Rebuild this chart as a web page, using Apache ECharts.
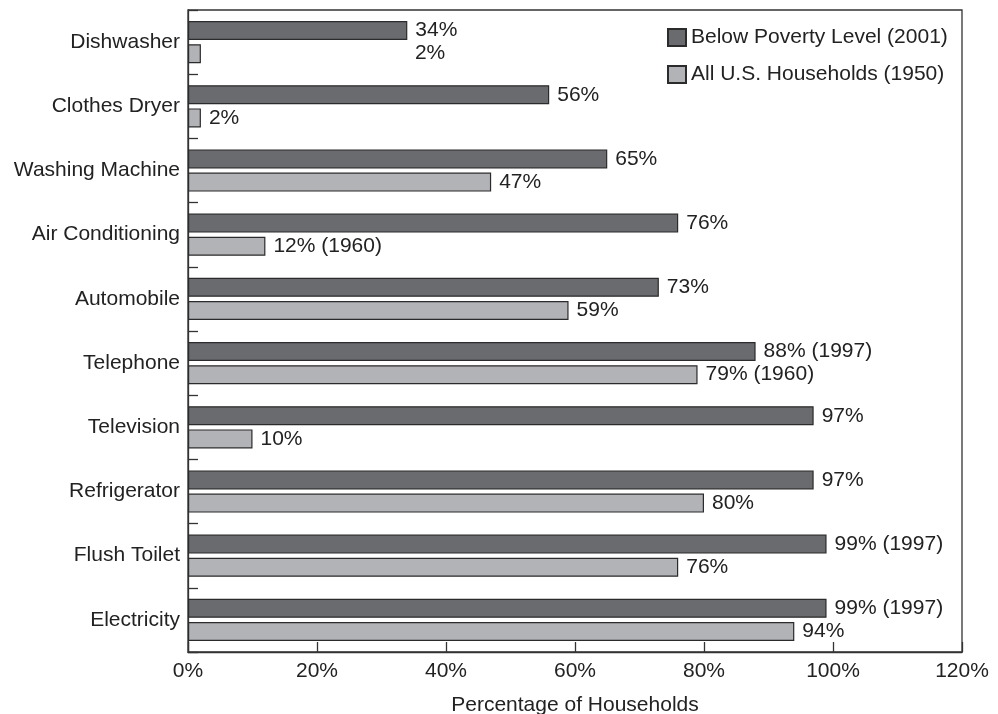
<!DOCTYPE html>
<html>
<head>
<meta charset="utf-8">
<script src="https://cdn.jsdelivr.net/npm/echarts@6/dist/echarts.min.js"></script>
<style>
  html, body { margin: 0; padding: 0; background: #fff; }
  #chart { width: 998px; height: 714px; }
</style>
</head>
<body>
<div id="chart"></div>
<script>
// Household amenities: poor households in 2001 vs. all U.S. households in 1950
const categories = ['Dishwasher', 'Clothes Dryer', 'Washing Machine', 'Air Conditioning', 'Automobile',
  'Telephone', 'Television', 'Refrigerator', 'Flush Toilet', 'Electricity'];
const povertyValues = [34, 56, 65, 76, 73, 88, 97, 97, 99, 99];
const povertyNotes = ['', '', '', '', '', ' (1997)', '', '', ' (1997)', ' (1997)'];
const householdValues = [2, 2, 47, 12, 59, 79, 10, 80, 76, 94];
const householdNotes = ['', '', '', ' (1960)', '', ' (1960)', '', '', '', ''];
const xTicks = [0, 20, 40, 60, 80, 100, 120];

const TEXT = '#222222';
const FONT = '"Liberation Sans", Arial, Helvetica, sans-serif';
const FS = 21;

const chart = echarts.init(document.getElementById('chart'));

const householdData = householdValues.map((v, i) => {
  const item = { value: v };
  // the Dishwasher label sits under the 34% label
  if (i === 0) item.label = { offset: [206, 0] };
  return item;
});

chart.setOption({
  backgroundColor: '#ffffff',
  animation: false,
  textStyle: { fontFamily: FONT, color: TEXT },
  grid: {
    left: 188, right: 36, top: 10, bottom: 62,
    containLabel: false,
    outerBoundsMode: 'none',
    show: true, borderColor: '#333', borderWidth: 1.3, backgroundColor: 'transparent'
  },
  legend: {
    orient: 'vertical',
    left: 662, top: 22,
    itemWidth: 18, itemHeight: 17, itemGap: 16,
    textStyle: { fontSize: FS, color: TEXT, fontFamily: FONT, padding: [0, 0, 0, 0] },
    data: [
      { name: 'Below Poverty Level (2001)', icon: 'rect' },
      { name: 'All U.S. Households (1950)', icon: 'rect' }
    ]
  },
  xAxis: {
    type: 'value',
    min: 0, max: 120, interval: 20,
    name: 'Percentage of Households',
    nameLocation: 'middle',
    nameGap: 43,
    nameTextStyle: { fontSize: FS, color: TEXT, fontFamily: FONT },
    axisLine: { show: true, lineStyle: { color: '#333', width: 1.3 } },
    axisTick: { show: true, inside: true, length: 10, lineStyle: { color: '#333', width: 1.3 } },
    axisLabel: { fontSize: FS, color: TEXT, margin: 9, formatter: v => xTicks.includes(v) ? v + '%' : '' },
    splitLine: { show: false }
  },
  yAxis: {
    type: 'category',
    data: categories,
    inverse: true,
    axisLine: { show: true, lineStyle: { color: '#333', width: 1.3 } },
    axisTick: { show: true, inside: true, length: 10, lineStyle: { color: '#333', width: 1.3 } },
    axisLabel: { fontSize: FS, color: TEXT, margin: 8 },
    splitLine: { show: false }
  },
  series: [
    {
      name: 'Below Poverty Level (2001)',
      type: 'bar',
      data: povertyValues,
      barWidth: 19,
      barGap: '22%',
      itemStyle: { color: '#6a6b6f', borderColor: '#2b2b2b', borderWidth: 1.2 },
      label: {
        show: true, position: 'right', distance: 8,
        fontSize: FS, color: TEXT, fontFamily: FONT,
        formatter: p => p.value + '%' + povertyNotes[p.dataIndex]
      }
    },
    {
      name: 'All U.S. Households (1950)',
      type: 'bar',
      data: householdData,
      barWidth: 19,
      itemStyle: { color: '#b2b3b7', borderColor: '#2b2b2b', borderWidth: 1.2 },
      label: {
        show: true, position: 'right', distance: 8,
        fontSize: FS, color: TEXT, fontFamily: FONT,
        formatter: p => p.value + '%' + householdNotes[p.dataIndex]
      }
    }
  ]
});
</script>
</body>
</html>
